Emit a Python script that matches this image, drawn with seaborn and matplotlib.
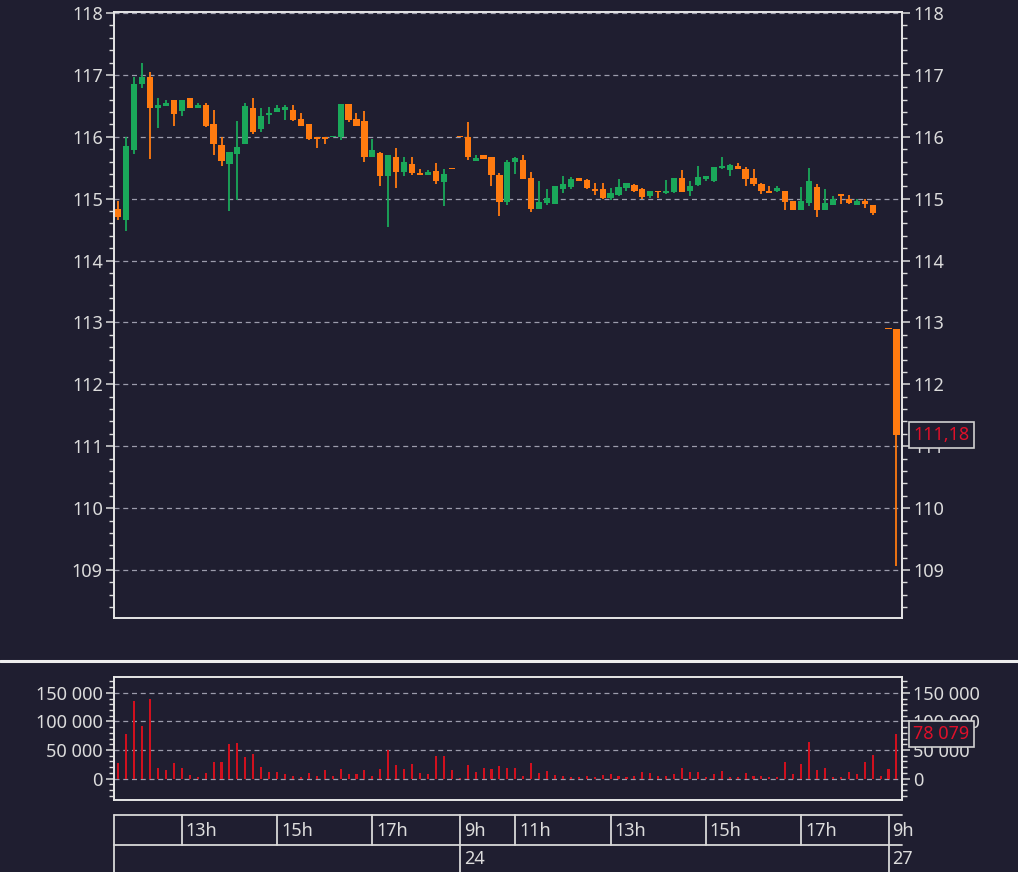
import numpy as np
import pandas as pd
import seaborn as sns
import matplotlib.pyplot as plt
import matplotlib.transforms as mtransforms
from matplotlib.lines import Line2D
from matplotlib.ticker import MultipleLocator, FuncFormatter

# 10-minute candles
opens = [114.83, 114.66, 115.78, 116.86, 116.97, 116.47, 116.50, 116.60, 116.41, 116.63,
         116.46, 116.52, 116.21, 115.87, 115.56, 115.72, 115.89, 116.47, 116.12, 116.35,
         116.40, 116.44, 116.44, 116.28, 116.20, 115.99, 115.99, 115.99, 115.99, 116.53,
         116.29, 116.25, 115.67, 115.74, 115.36, 115.68, 115.43, 115.56, 115.42, 115.39,
         115.44, 115.27, 115.50, 116.00, 116.00, 115.61, 115.70, 115.68, 115.39, 114.95,
         115.59, 115.62, 115.34, 114.83, 114.93, 114.91, 115.16, 115.19, 115.34, 115.30,
         115.15, 115.16, 115.01, 115.06, 115.17, 115.22, 115.15, 115.04, 115.13, 115.09,
         115.10, 115.33, 115.13, 115.22, 115.31, 115.28, 115.50, 115.46, 115.53, 115.48,
         115.33, 115.24, 115.13, 115.12, 115.13, 114.96, 114.81, 114.93, 115.19, 114.82,
         114.89, 115.08, 115.00, 114.90, 114.96, 114.89, 114.82, 112.90, 112.90]
highs = [114.96, 115.99, 116.97, 117.19, 117.05, 116.63, 116.60, 116.60, 116.60, 116.63,
         116.55, 116.54, 116.43, 115.99, 115.75, 116.25, 116.54, 116.62, 116.47, 116.48,
         116.52, 116.52, 116.51, 116.38, 116.20, 115.99, 115.99, 116.00, 116.53, 116.53,
         116.39, 116.41, 115.97, 115.75, 115.70, 115.82, 115.68, 115.68, 115.48, 115.47,
         115.58, 115.48, 115.50, 116.00, 116.24, 115.71, 115.70, 115.68, 115.41, 115.62,
         115.67, 115.70, 115.43, 115.28, 115.15, 115.20, 115.36, 115.35, 115.34, 115.32,
         115.26, 115.26, 115.18, 115.31, 115.25, 115.24, 115.17, 115.13, 115.13, 115.30,
         115.33, 115.46, 115.29, 115.52, 115.37, 115.51, 115.67, 115.56, 115.57, 115.51,
         115.48, 115.25, 115.21, 115.20, 115.13, 114.97, 115.19, 115.50, 115.23, 115.15,
         115.05, 115.08, 115.06, 114.99, 114.99, 114.90, 114.82, 112.90, 112.90]
lows = [114.65, 114.48, 115.72, 116.79, 115.64, 116.14, 116.50, 116.17, 116.34, 116.46,
        116.46, 116.16, 115.71, 115.52, 114.80, 114.98, 115.89, 116.05, 116.07, 116.21,
        116.40, 116.27, 116.26, 116.17, 115.95, 115.82, 115.89, 115.99, 115.94, 116.24,
        116.18, 115.59, 115.67, 115.20, 114.54, 115.18, 115.37, 115.39, 115.39, 115.39,
        115.24, 114.88, 115.48, 115.99, 115.63, 115.61, 115.64, 115.20, 114.72, 114.90,
        115.40, 115.32, 114.78, 114.83, 114.90, 114.91, 115.09, 115.15, 115.28, 115.16,
        115.06, 114.99, 114.98, 115.04, 115.12, 115.11, 115.00, 115.01, 115.01, 115.08,
        115.09, 115.11, 115.05, 115.20, 115.28, 115.27, 115.48, 115.37, 115.48, 115.21,
        115.21, 115.08, 115.09, 115.11, 114.81, 114.81, 114.81, 114.88, 114.71, 114.81,
        114.89, 114.92, 114.92, 114.90, 114.85, 114.74, 114.81, 112.89, 109.07]
closes = [114.70, 115.85, 116.86, 116.97, 116.47, 116.51, 116.55, 116.36, 116.60, 116.46,
          116.51, 116.17, 115.89, 115.61, 115.75, 115.84, 116.50, 116.08, 116.33, 116.39,
          116.47, 116.48, 116.27, 116.18, 115.97, 115.96, 115.96, 116.00, 116.53, 116.27,
          116.18, 115.67, 115.78, 115.37, 115.70, 115.43, 115.59, 115.41, 115.39, 115.43,
          115.28, 115.40, 115.48, 115.99, 115.68, 115.66, 115.64, 115.39, 114.95, 115.59,
          115.66, 115.32, 114.83, 114.94, 115.01, 115.20, 115.24, 115.31, 115.29, 115.17,
          115.13, 115.01, 115.09, 115.19, 115.25, 115.12, 115.03, 115.13, 115.11, 115.13,
          115.33, 115.11, 115.21, 115.35, 115.37, 115.51, 115.53, 115.55, 115.48, 115.31,
          115.24, 115.12, 115.09, 115.17, 114.94, 114.81, 114.97, 115.28, 114.82, 114.93,
          114.99, 115.04, 114.93, 114.97, 114.92, 114.77, 114.81, 112.89, 111.18]
volumes = [27600, 78200, 135300, 91200, 139400, 18800, 14700, 27600, 18800, 7000,
           2900, 8800, 29400, 29400, 60600, 62900, 38200, 42400, 20600, 11800,
           11800, 7600, 4100, 1800, 10000, 4100, 14700, 4100, 16500, 7600,
           7600, 14700, 4100, 16500, 50000, 23500, 16500, 25300, 8800, 7600,
           39400, 40000, 14700, 1200, 23500, 11800, 17600, 15900, 22400, 18800,
           18800, 4100, 26500, 10000, 13500, 5900, 4100, 2900, 2900, 4100,
           2900, 5900, 7100, 4100, 2900, 4100, 11800, 10000, 4100, 4100,
           7100, 17600, 11800, 11800, 2900, 7100, 13500, 2900, 1800, 8800,
           4100, 4100, 1800, 1800, 28200, 7100, 24700, 64700, 14700, 17600,
           2900, 1800, 11800, 7100, 28200, 41200, 4100, 15900, 78079]

hour_labels = ['13h', '15h', '17h', '9h', '11h', '13h', '15h', '17h', '9h']
hour_index = [8, 20, 32, 43, 50, 62, 74, 86, 97]
day_labels = ['24', '27']
day_index = [43, 97]

last_price = 111.18
last_volume = 78079

bg = '#1f1e30'
fg = '#dcdcdc'
green = '#1aa85a'
orange = '#ff7b10'
red = '#d0101e'

sns.set_theme(style='dark', rc={'axes.facecolor': bg, 'figure.facecolor': bg,
                                'axes.edgecolor': '#e6e6e6', 'text.color': fg,
                                'xtick.color': fg, 'ytick.color': fg})
plt.rcParams['font.family'] = ['Noto Sans', 'DejaVu Sans']

W, H = 1018, 872


def rect(l, t, r, b):
    return [l / W, 1 - b / H, (r - l) / W, (b - t) / H]


fig = plt.figure(figsize=(W / 100, H / 100), dpi=100)
ax = fig.add_axes(rect(114, 12, 902, 618))
axv = fig.add_axes(rect(114, 677, 902, 800))
axt = fig.add_axes(rect(114, 814, 902, 880))

df = pd.DataFrame({'o': opens, 'h': highs, 'l': lows, 'c': closes, 'v': volumes})
df['idx'] = np.arange(len(df))
df['col'] = np.where(df['c'] >= df['o'], green, orange)
x0, x1 = -0.54, 98.7

# candles
ax.vlines(df['idx'], df['l'], df['h'], colors=df['col'], lw=1.3, zorder=2)
body = np.maximum((df['c'] - df['o']).abs(), 0.015)
ax.bar(df['idx'], body, bottom=np.minimum(df['o'], df['c']), width=0.78,
       color=df['col'], linewidth=0, zorder=3)

# volume
sns.barplot(data=df, x='idx', y='v', native_scale=True, width=0.26, color=red,
            saturation=1, errorbar=None, ax=axv, zorder=3, linewidth=0, edgecolor=red)
axv.set_xlabel('')
axv.set_ylabel('')

grid_kw = dict(color='#9c9cac', lw=0.9, ls=(0, (4, 3)))


def style_axis(a, major, minor, lo, hi):
    a.set_xlim(x0, x1)
    a.set_ylim(lo, hi)
    a.set_xticks([])
    a.yaxis.set_major_locator(MultipleLocator(major))
    a.yaxis.set_minor_locator(MultipleLocator(minor))
    a.tick_params(axis='y', which='both', left=True, right=True, labelleft=True,
                  labelright=True, direction='out', colors=fg, labelsize=13)
    a.tick_params(axis='y', which='major', length=6, width=1.1, pad=2)
    a.tick_params(axis='y', which='minor', length=3.5, width=1.0)
    a.grid(False)
    a.yaxis.grid(True, which='major', **grid_kw)
    for s in a.spines.values():
        s.set_visible(True)
        s.set_color('#e6e6e6')
        s.set_linewidth(1.4)


style_axis(ax, 1, 0.2, 108.225, 118.016)
style_axis(axv, 50000, 10000, -37600, 177650)
axv.yaxis.set_major_formatter(FuncFormatter(lambda v, p: '{:,.0f}'.format(v).replace(',', ' ')))

# last value labels
box = dict(boxstyle='square,pad=0.22', fc=bg, ec='#d0d0d0', lw=1.2)
tr = mtransforms.blended_transform_factory(ax.transAxes, ax.transData)
ax.text(1.0145, last_price, '{:.2f}'.format(last_price).replace('.', ','), transform=tr,
        color='#e0102a', fontsize=13, va='center', ha='left', bbox=box, zorder=10)
trv = mtransforms.blended_transform_factory(axv.transAxes, axv.transData)
axv.text(1.0145, last_volume, '{:,}'.format(last_volume).replace(',', ' '), transform=trv,
         color='#e0102a', fontsize=13, va='center', ha='left', bbox=box, zorder=10)

# separator between price and volume panels
fig.add_artist(Line2D([0, 1], [1 - 661 / H, 1 - 661 / H], transform=fig.transFigure,
                      color='#eeeeee', lw=2.2))

# time axis drawn as a two-row table
axt.set_xlim(x0, x1)
axt.set_ylim(880, 814)
axt.axis('off')
line_kw = dict(color='#d8d8d8', lw=1.3, clip_on=False)
axt.plot([x0, x1], [814.5, 814.5], **line_kw)
axt.plot([x0, x1], [845, 845], **line_kw)
axt.plot([x0, x0], [814.5, 880], **line_kw)
for i, lab in zip(hour_index, hour_labels):
    axt.plot([i, i], [814.5, 845], **line_kw)
    axt.text(i + 0.5, 831, lab, color=fg, fontsize=13, va='center', ha='left', clip_on=False)
for i, lab in zip(day_index, day_labels):
    axt.plot([i, i], [845, 880], **line_kw)
    axt.text(i + 0.5, 859, lab, color=fg, fontsize=13, va='center', ha='left', clip_on=False)

fig.savefig('out.png', dpi=100, facecolor=bg)
